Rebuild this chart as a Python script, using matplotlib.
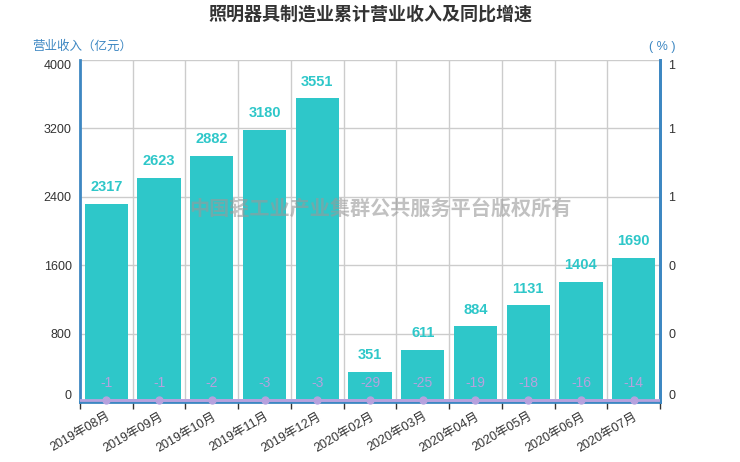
import numpy as np
import matplotlib
matplotlib.use('Agg')
import matplotlib.pyplot as plt

plt.rcParams['font.family'] = ['Liberation Sans', 'Noto Sans CJK SC', 'DejaVu Sans']

# data
months = ['2019年08月', '2019年09月', '2019年10月', '2019年11月', '2019年12月',
          '2020年02月', '2020年03月', '2020年04月', '2020年05月', '2020年06月', '2020年07月']
revenue = [2317, 2623, 2882, 3180, 3551, 351, 611, 884, 1131, 1404, 1690]
growth = [-1, -1, -2, -3, -3, -29, -25, -19, -18, -16, -14]

bar_color = '#2ec7c9'
line_color = '#b6a2de'
axis_blue = '#3d87c2'
grid_color = '#cccccc'
text_color = '#333333'

fig = plt.figure(figsize=(7.4, 4.62), dpi=100)
ax1 = fig.add_axes([80 / 740, 1 - 402 / 462, 580 / 740, 342 / 462])
ax2 = ax1.twinx()

x = np.arange(len(months))

# bars
ax1.bar(x, revenue, width=0.82, color=bar_color, zorder=2)
for xi, v in zip(x, revenue):
    ax1.annotate(str(v), (xi, v), xytext=(0, 12), textcoords='offset points',
                 ha='center', va='center', fontsize=10.5, fontweight='bold',
                 color=bar_color, zorder=5)

ax1.set_xlim(-0.5, len(months) - 0.5)
ax1.set_ylim(0, 4000)
ax1.set_yticks([0, 800, 1600, 2400, 3200, 4000])
ax1.tick_params(axis='y', length=0, labelsize=9, labelcolor=text_color, pad=6)
labels = ax1.get_yticklabels()
labels[0].set_va('bottom')
labels[-1].set_va('top')

# grid: vertical lines at category boundaries
ax1.set_xticks(np.arange(len(months) + 1) - 0.5)
ax1.set_xticklabels([])
ax1.set_xticks(x, minor=True)
ax1.set_xticklabels(months, minor=True, rotation=30, ha='right',
                    rotation_mode='anchor', fontsize=9, color=text_color)
ax1.tick_params(axis='x', which='major', length=5, color=text_color, width=1)
ax1.tick_params(axis='x', which='minor', length=0, pad=6)
ax1.grid(True, which='major', color=grid_color, linewidth=1, zorder=0)
ax1.set_axisbelow(True)

for side in ['left', 'right', 'bottom']:
    ax1.spines[side].set_color(axis_blue)
    ax1.spines[side].set_linewidth(2)
ax1.spines['top'].set_visible(False)
ax2.spines['top'].set_visible(False)
ax2.spines['right'].set_color(axis_blue)
ax2.spines['right'].set_linewidth(2)
ax2.spines['left'].set_visible(False)
ax2.spines['bottom'].set_visible(False)

# growth line (negative values sit on the axis floor)
rticks = [0, 0.2, 0.4, 0.6, 0.8, 1.0]
ax2.set_ylim(0, 1)
ax2.set_yticks(rticks)
ax2.set_yticklabels(['0', '0', '0', '1', '1', '1'])
ax2.tick_params(axis='y', length=0, labelsize=9, labelcolor=text_color, pad=6)
rlabels = ax2.get_yticklabels()
rlabels[0].set_va('bottom')
rlabels[-1].set_va('top')
ax2.axhline(0.006, color=line_color, linewidth=2, zorder=3)
shown = np.maximum(growth, 0) + 0.006
ax2.plot(x, shown, color=line_color, linewidth=2, marker='o', markersize=5,
         clip_on=False, zorder=4)
for xi, g, s in zip(x, growth, shown):
    ax2.annotate(str(g), (xi, s), xytext=(0, 12), textcoords='offset points',
                 ha='center', va='center', fontsize=10, color=line_color, zorder=5)

# titles and axis names
fig.text(0.5, 1 - 15 / 462, '照明器具制造业累计营业收入及同比增速', ha='center', va='center',
         fontsize=13, fontweight='bold', color=text_color)
fig.text(32 / 740, 1 - 47 / 462, '营业收入（亿元）', ha='left', va='center',
         fontsize=9, color=axis_blue)
fig.text(662 / 740, 1 - 47 / 462, '( % )', ha='center', va='center',
         fontsize=9, color=axis_blue)

# watermark
fig.text(380 / 740, 1 - 209 / 462, '中国轻工业产业集群公共服务平台版权所有', ha='center', va='center',
         fontsize=14.5, fontweight='bold', color='#999999', alpha=0.6, zorder=10)

fig.savefig('out.png', dpi=100)
